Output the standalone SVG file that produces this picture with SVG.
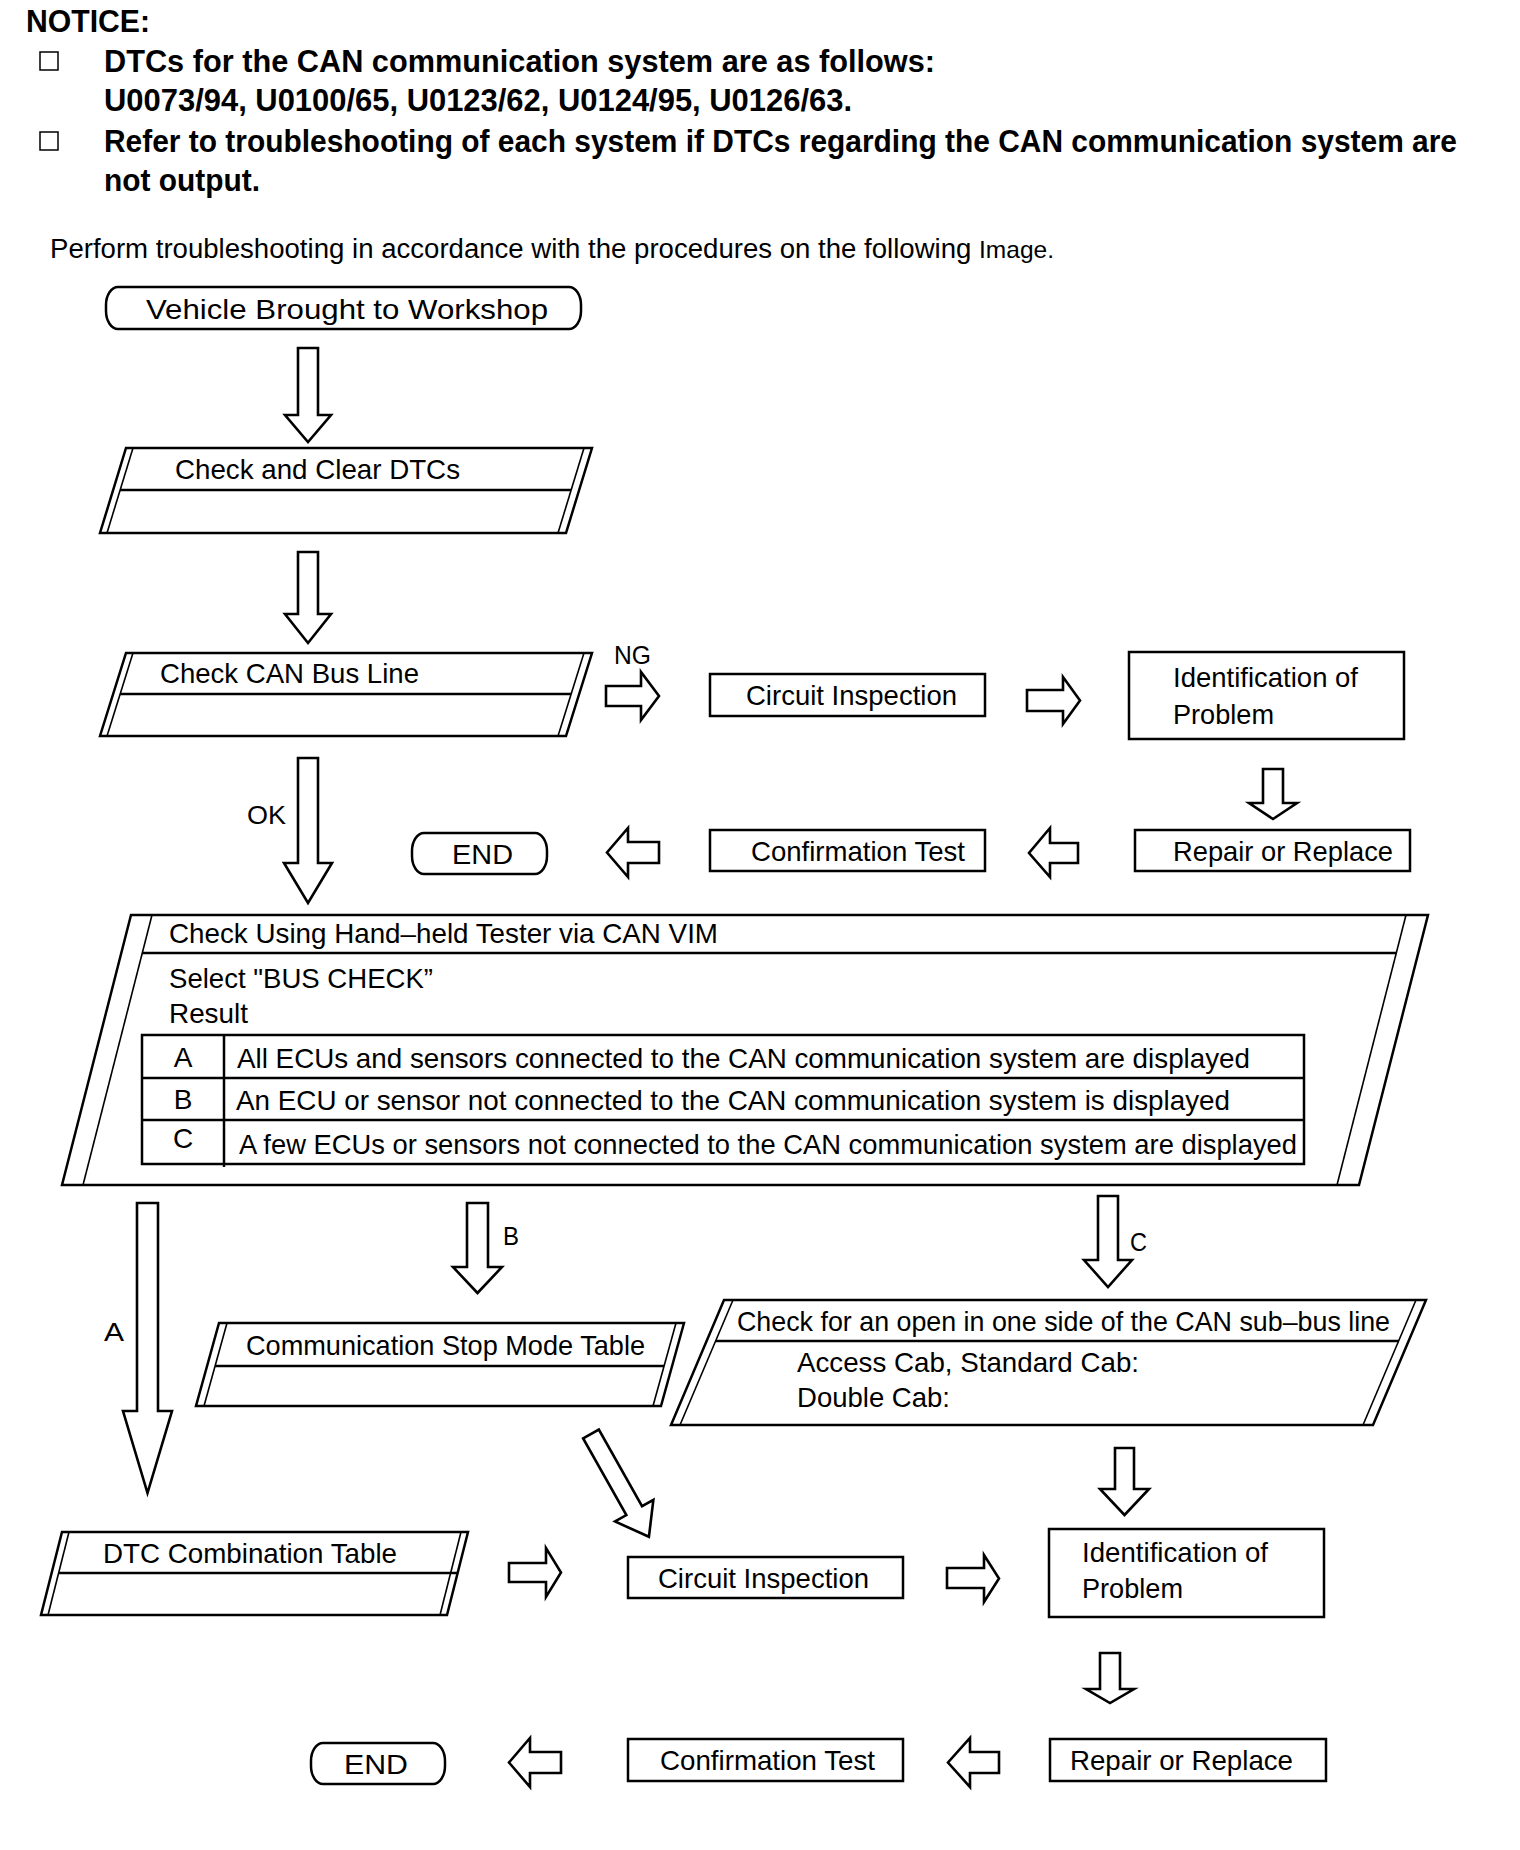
<svg xmlns="http://www.w3.org/2000/svg" width="1520" height="1850" viewBox="0 0 1520 1850">
<style>
.bg{fill:#fff}
.box{fill:#fff;stroke:#000;stroke-width:2.5}
.ln{fill:none;stroke:#000;stroke-width:2.5}
.th{fill:none;stroke:#000;stroke-width:1.6}
.cb{fill:#fff;stroke:#000;stroke-width:1.5}
.arr{fill:#fff;stroke:#000;stroke-width:2.6;stroke-linejoin:miter}
text{font-family:"Liberation Sans",Arial,Helvetica,sans-serif;fill:#000}
.t{font-size:28px}
.hb{font-size:31px;font-weight:bold}
.hp{font-size:27px}
.lb{font-size:26px}
</style>
<rect class="bg" x="0" y="0" width="1520" height="1850"/>

<g id="notice">
<text class="hb" x="26" y="32" textLength="124" lengthAdjust="spacingAndGlyphs">NOTICE:</text>
<rect class="cb" x="40" y="52" width="18" height="18"/>
<text class="hb" x="104" y="72" textLength="831" lengthAdjust="spacingAndGlyphs">DTCs for the CAN communication system are as follows:</text>
<text class="hb" x="104" y="111" textLength="748" lengthAdjust="spacingAndGlyphs">U0073/94, U0100/65, U0123/62, U0124/95, U0126/63.</text>
<rect class="cb" x="40" y="132" width="18" height="18"/>
<text class="hb" x="104" y="152" textLength="1353" lengthAdjust="spacingAndGlyphs">Refer to troubleshooting of each system if DTCs regarding the CAN communication system are</text>
<text class="hb" x="104" y="191" textLength="156" lengthAdjust="spacingAndGlyphs">not output.</text>
<text class="hp" x="50" y="258" textLength="1004" lengthAdjust="spacingAndGlyphs">Perform troubleshooting in accordance with the procedures on the following <tspan font-size="24">Image.</tspan></text>
</g>

<g id="connectors">
<polygon class="arr" points="298,348 318,348 318,415 331,415 308,442 285,415 298,415"/>
<polygon class="arr" points="298,552 318,552 318,614 331,614 308,643 285,614 298,614"/>
<polygon class="arr" points="298,758 318,758 318,863 332,863 308,903 284,863 298,863"/>
<polygon class="arr" points="606,686 641,686 641,672 659,696 641,720 641,706 606,706"/>
<polygon class="arr" points="1027,690 1063,690 1063,677 1080,700.5 1063,724 1063,711 1027,711"/>
<polygon class="arr" points="1263,769 1283,769 1283,803 1297,803 1273,819 1249,803 1263,803"/>
<polygon class="arr" points="1078,843 1050,843 1050,828 1029,853 1050,877 1050,863 1078,863"/>
<polygon class="arr" points="659,842 628,842 628,828 607,852.5 628,877 628,863 659,863"/>
<polygon class="arr" points="137,1203 158,1203 158,1411 172,1411 147.5,1493 123,1411 137,1411"/>
<polygon class="arr" points="467,1203 488,1203 488,1267 502,1267 477.5,1293 453,1267 467,1267"/>
<polygon class="arr" points="1098,1196 1118,1196 1118,1260 1132,1260 1108,1287 1084,1260 1098,1260"/>
<polygon class="arr" points="1115,1448 1134,1448 1134,1489 1149,1489 1124.5,1515 1100,1489 1115,1489"/>
<polygon class="arr" transform="translate(591,1434) rotate(-29.4)" points="-9,0 9,0 9,88 22,88 0,118 -22,88 -9,88"/>
<polygon class="arr" points="509,1563 546,1563 546,1548 561,1572.5 546,1597 546,1582 509,1582"/>
<polygon class="arr" points="947,1568 984,1568 984,1555 999,1578.5 984,1602 984,1588 947,1588"/>
<polygon class="arr" points="1100,1653 1120,1653 1120,1689 1134,1689 1110,1703 1086,1689 1100,1689"/>
<polygon class="arr" points="999,1752 970,1752 970,1738 948,1762.5 970,1787 970,1773 999,1773"/>
<polygon class="arr" points="561,1752 530,1752 530,1738 509,1762.5 530,1787 530,1773 561,1773"/>
<text class="lb" x="614" y="664" textLength="37" lengthAdjust="spacingAndGlyphs">NG</text>
<text class="lb" x="247" y="824" textLength="39" lengthAdjust="spacingAndGlyphs">OK</text>
<text class="lb" x="104" y="1341" textLength="20" lengthAdjust="spacingAndGlyphs">A</text>
<text class="lb" x="503" y="1245" textLength="16" lengthAdjust="spacingAndGlyphs">B</text>
<text class="lb" x="1130" y="1251" textLength="17" lengthAdjust="spacingAndGlyphs">C</text>
</g>

<g id="vehicle">
<rect class="box" x="106" y="287" width="475" height="42" rx="12" ry="18"/>
<text class="t" x="146" y="319" font-size="31" textLength="402" lengthAdjust="spacingAndGlyphs">Vehicle Brought to Workshop</text>
</g>

<g id="check-clear">
<polygon class="box" points="126,448 592,448 566,533 100,533"/>
<line class="th" x1="133" y1="448" x2="107" y2="533"/>
<line class="th" x1="584" y1="448" x2="558" y2="533"/>
<line class="ln" x1="120" y1="490" x2="571" y2="490"/>
<text class="t" x="175" y="479" textLength="285" lengthAdjust="spacingAndGlyphs">Check and Clear DTCs</text>
</g>

<g id="check-can">
<polygon class="box" points="126,653 592,653 566,736 100,736"/>
<line class="th" x1="133" y1="653" x2="107" y2="736"/>
<line class="th" x1="584" y1="653" x2="558" y2="736"/>
<line class="ln" x1="120" y1="694" x2="571" y2="694"/>
<text class="t" x="160" y="683" textLength="259" lengthAdjust="spacingAndGlyphs">Check CAN Bus Line</text>
</g>

<g id="circuit1">
<rect class="box" x="710" y="674" width="275" height="42"/>
<text class="t" x="746" y="705" textLength="211" lengthAdjust="spacingAndGlyphs">Circuit Inspection</text>
</g>

<g id="ident1">
<rect class="box" x="1129" y="652" width="275" height="87"/>
<text class="t" x="1173" y="687" textLength="185" lengthAdjust="spacingAndGlyphs">Identification of</text>
<text class="t" x="1173" y="724" textLength="101" lengthAdjust="spacingAndGlyphs">Problem</text>
</g>

<g id="repair1">
<rect class="box" x="1135" y="830" width="275" height="41"/>
<text class="t" x="1173" y="861" textLength="220" lengthAdjust="spacingAndGlyphs">Repair or Replace</text>
</g>

<g id="confirm1">
<rect class="box" x="710" y="830" width="275" height="41"/>
<text class="t" x="751" y="861" textLength="214" lengthAdjust="spacingAndGlyphs">Confirmation Test</text>
</g>

<g id="end1">
<rect class="box" x="412" y="833" width="135" height="41" rx="12" ry="18"/>
<text class="t" x="452" y="864" font-size="30" textLength="61" lengthAdjust="spacingAndGlyphs">END</text>
</g>

<g id="bus-check">
<polygon class="box" points="131,915 1428,915 1359,1185 62,1185"/>
<line class="th" x1="152" y1="915" x2="83" y2="1185"/>
<line class="th" x1="1406" y1="915" x2="1337" y2="1185"/>
<line class="ln" x1="142" y1="953" x2="1397" y2="953"/>
<text class="t" x="169" y="943" textLength="549" lengthAdjust="spacingAndGlyphs">Check Using Hand–held Tester via CAN VIM</text>
<text class="t" x="169" y="988" textLength="264" lengthAdjust="spacingAndGlyphs">Select "BUS CHECK”</text>
<text class="t" x="169" y="1023" textLength="79" lengthAdjust="spacingAndGlyphs">Result</text>
<rect class="box" x="142" y="1035" width="1162" height="129" stroke-width="2"/>
<line class="ln" stroke-width="2" x1="142" y1="1078" x2="1304" y2="1078"/>
<line class="ln" stroke-width="2" x1="142" y1="1120" x2="1304" y2="1120"/>
<line class="ln" stroke-width="2" x1="224" y1="1035" x2="224" y2="1167"/>
<text class="t" x="183" y="1067" text-anchor="middle">A</text>
<text class="t" x="183" y="1109" text-anchor="middle">B</text>
<text class="t" x="183" y="1148" text-anchor="middle">C</text>
<text class="t" x="237" y="1068" textLength="1013" lengthAdjust="spacingAndGlyphs">All ECUs and sensors connected to the CAN communication system are displayed</text>
<text class="t" x="236" y="1110" textLength="994" lengthAdjust="spacingAndGlyphs">An ECU or sensor not connected to the CAN communication system is displayed</text>
<text class="t" x="239" y="1154" textLength="1058" lengthAdjust="spacingAndGlyphs">A few ECUs or sensors not connected to the CAN communication system are displayed</text>
</g>

<g id="comm-stop">
<polygon class="box" points="219,1323 684,1323 661,1406 196,1406"/>
<line class="th" x1="227" y1="1323" x2="204" y2="1406"/>
<line class="th" x1="676" y1="1323" x2="653" y2="1406"/>
<line class="ln" x1="215" y1="1366" x2="664" y2="1366"/>
<text class="t" x="246" y="1355" textLength="399" lengthAdjust="spacingAndGlyphs">Communication Stop Mode Table</text>
</g>

<g id="open-check">
<polygon class="box" points="724,1300 1426,1300 1373,1425 671,1425"/>
<line class="th" x1="733" y1="1300" x2="680" y2="1425"/>
<line class="th" x1="1416" y1="1300" x2="1363" y2="1425"/>
<line class="ln" x1="716" y1="1341" x2="1399" y2="1341"/>
<text class="t" x="737" y="1331" textLength="653" lengthAdjust="spacingAndGlyphs">Check for an open in one side of the CAN sub–bus line</text>
<text class="t" x="797" y="1372" textLength="342" lengthAdjust="spacingAndGlyphs">Access Cab, Standard Cab:</text>
<text class="t" x="797" y="1407" textLength="153" lengthAdjust="spacingAndGlyphs">Double Cab:</text>
</g>

<g id="dtc-combo">
<polygon class="box" points="62,1532 468,1532 447,1615 41,1615"/>
<line class="th" x1="69" y1="1532" x2="48" y2="1615"/>
<line class="th" x1="461" y1="1532" x2="440" y2="1615"/>
<line class="ln" x1="58" y1="1573" x2="457" y2="1573"/>
<text class="t" x="103" y="1563" textLength="294" lengthAdjust="spacingAndGlyphs">DTC Combination Table</text>
</g>

<g id="circuit2">
<rect class="box" x="628" y="1557" width="275" height="41"/>
<text class="t" x="658" y="1588" textLength="211" lengthAdjust="spacingAndGlyphs">Circuit Inspection</text>
</g>

<g id="ident2">
<rect class="box" x="1049" y="1529" width="275" height="88"/>
<text class="t" x="1082" y="1562" textLength="186" lengthAdjust="spacingAndGlyphs">Identification of</text>
<text class="t" x="1082" y="1598" textLength="101" lengthAdjust="spacingAndGlyphs">Problem</text>
</g>

<g id="repair2">
<rect class="box" x="1050" y="1739" width="276" height="42"/>
<text class="t" x="1070" y="1770" textLength="223" lengthAdjust="spacingAndGlyphs">Repair or Replace</text>
</g>

<g id="confirm2">
<rect class="box" x="628" y="1739" width="275" height="42"/>
<text class="t" x="660" y="1770" textLength="215" lengthAdjust="spacingAndGlyphs">Confirmation Test</text>
</g>

<g id="end2">
<rect class="box" x="311" y="1743" width="134" height="41" rx="12" ry="18"/>
<text class="t" x="344" y="1774" font-size="30" textLength="64" lengthAdjust="spacingAndGlyphs">END</text>
</g>
</svg>
